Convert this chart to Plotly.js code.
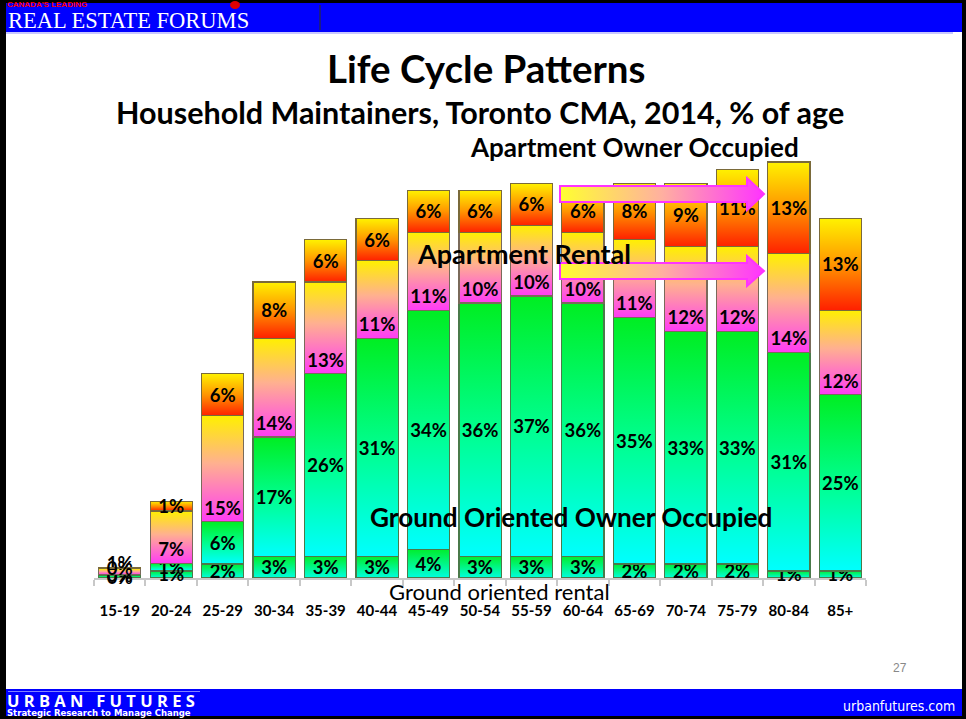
<!DOCTYPE html>
<html>
<head>
<meta charset="utf-8">
<script src="https://cdn.plot.ly/plotly-3.0.1.min.js"></script>
<style>
  html, body { margin: 0; padding: 0; background: #ffffff; }
  #chart { width: 966px; height: 719px; }
</style>
</head>
<body>
<div id="chart"></div>
<script>
// ---------------- data ----------------
const categories = ['15-19','20-24','25-29','30-34','35-39','40-44','45-49','50-54','55-59','60-64','65-69','70-74','75-79','80-84','85+'];
const groundRental = [0.3, 1.0, 2, 3, 3, 3, 4, 3, 3, 3, 2, 2, 2, 1, 1];
const groundOwner  = [0.2, 1.1, 6, 17, 26, 31, 34, 36, 37, 36, 35, 33, 33, 31, 25];
const aptRental    = [0.8, 7.4, 15, 14, 13, 11, 11, 10, 10, 10, 11, 12, 12, 14, 12];
const aptOwner     = [0.2, 1.4, 6, 8, 6, 6, 6, 6, 6, 6, 8, 9, 11, 13, 13];

const seriesNames = ['Ground oriented rental','Ground Oriented Owner Occupied','Apartment Rental','Apartment Owner Occupied'];

// ---------------- layout helpers (page pixels -> paper) ----------------
const W = 966, H = 719;
const M = {l: 94, r: 100, t: 155, b: 141};
const PW = W - M.l - M.r, PH = H - M.t - M.b;
const fx = px => (px - M.l) / PW;
const fy = py => (H - M.b - py) / PH;

const FONT = 'Lato, "Open Sans", sans-serif';

function barTrace(name, vals, anchor, fill, line) {
  return {
    type: 'bar', name: name, x: categories, y: vals,
    texttemplate: '%{y:.0f}%', textposition: 'inside', insidetextanchor: anchor,
    textangle: 0, constraintext: 'none', cliponaxis: false,
    insidetextfont: {family: FONT, size: 18.5, color: '#000000', weight: 'bold'},
    marker: {color: fill, line: {color: line, width: 1.2}},
    hoverinfo: 'skip'
  };
}

const data = [
  barTrace(seriesNames[0], groundRental, 'middle', '#00f59a', '#4a7a4a'),
  barTrace(seriesNames[1], groundOwner, 'middle', '#00f8a8', '#4a7a4a'),
  barTrace(seriesNames[2], aptRental, 'start', '#ffa0b0', '#7a6a5a'),
  barTrace(seriesNames[3], aptOwner, 'middle', '#ff9000', '#7a6a3a')
];

// ---------------- decorations ----------------
function rect(x0, y0, x1, y1, color, layer) {
  return {type: 'rect', xref: 'paper', yref: 'paper', x0: fx(x0), x1: fx(x1), y0: fy(y1), y1: fy(y0),
          fillcolor: color, line: {width: 0}, layer: layer || 'below'};
}
function arrowPath(xs, xb, xt, yc, bh, hh) {
  const p = [[xs, yc - bh], [xb, yc - bh], [xb, yc - hh], [xt, yc], [xb, yc + hh], [xb, yc + bh], [xs, yc + bh]];
  return 'M' + p.map(q => fx(q[0]).toFixed(5) + ',' + fy(q[1]).toFixed(5)).join(' L') + ' Z';
}

const shapes = [
  rect(0, 0, 966, 719, '#000000'),
  rect(6, 3, 962, 716, '#ffffff'),
  rect(6, 3, 962, 32, '#0000ff'),
  rect(6, 32, 953, 34, '#c8c8ff'),
  rect(319, 5, 321, 30, '#1a1a8a'),
  rect(6, 689, 962, 716, '#0000ff'),
  rect(8, 691, 200, 692, '#8080ff'),
  {type: 'circle', xref: 'paper', yref: 'paper', x0: fx(230), x1: fx(240), y0: fy(9), y1: fy(1), fillcolor: '#e00000', line: {width: 0}, layer: 'below'},
  {type: 'path', xref: 'paper', yref: 'paper', path: arrowPath(560, 747, 764, 194, 8, 16),
   fillcolor: '#ffa0ff', line: {color: '#ff33ff', width: 2}, layer: 'above'},
  {type: 'path', xref: 'paper', yref: 'paper', path: arrowPath(560, 747, 764, 271, 8, 15),
   fillcolor: '#ffa0ff', line: {color: '#ff33ff', width: 2}, layer: 'above'}
];

function ann(text, px, py, size, opts) {
  opts = opts || {};
  return {
    text: text, xref: 'paper', yref: 'paper', x: fx(px), y: fy(py),
    xanchor: opts.xanchor || 'center', yanchor: 'middle', showarrow: false,
    font: {family: opts.family || FONT, size: size, color: opts.color || '#000000', weight: opts.weight || 'bold'}
  };
}

const annotations = [
  ann('Life Cycle Patterns', 486, 68, 38.5),
  ann('Household Maintainers, Toronto CMA, 2014, % of age', 480, 112, 30.5),
  ann('Apartment Owner Occupied', 634, 147, 26),
  ann('Apartment Rental', 524, 253, 27),
  ann('Ground Oriented Owner Occupied', 571, 517, 26.2),
  ann('Ground oriented rental', 499, 591, 22, {weight: 'normal'}),
  ann('27', 900, 668, 12, {weight: 'normal', color: '#888888', family: 'Liberation Sans, sans-serif'}),
  ann('REAL ESTATE FORUMS', 6, 20, 22.5, {xanchor: 'left', color: '#ffffff', weight: 'normal', family: '"Liberation Serif", "DejaVu Serif", serif'}),
  ann("CANADA'S LEADING", 5, 4, 8, {xanchor: 'left', color: '#ff0000', family: 'Liberation Sans, sans-serif'}),
  ann('U\u00A0R\u00A0B\u00A0A\u00A0N\u00A0\u00A0\u00A0F\u00A0U\u00A0T\u00A0U\u00A0R\u00A0E\u00A0S', 5, 701, 16.5, {xanchor: 'left', color: '#ffffff', family: '"Open Sans", sans-serif'}),
  ann('Strategic Research to Manage Change', 5, 713, 8.5, {xanchor: 'left', color: '#ffffff', family: '"DejaVu Sans", sans-serif'}),
  ann('urbanfutures.com', 957, 706, 14, {xanchor: 'right', color: '#ffffff', weight: 'normal', family: '"Liberation Sans Narrow", "DejaVu Sans Condensed", sans-serif'})
];

const layout = {
  width: W, height: H,
  margin: M,
  paper_bgcolor: 'rgba(0,0,0,0)', plot_bgcolor: 'rgba(0,0,0,0)',
  barmode: 'stack', bargap: 0.18,
  showlegend: false,
  uniformtext: {minsize: 18.5, mode: 'show'},
  xaxis: {
    type: 'category', showgrid: false, zeroline: false, layer: 'below traces',
    showline: true, linecolor: '#c8c8c8', linewidth: 2,
    ticks: 'outside', tickson: 'boundaries', ticklen: 6, tickwidth: 2, tickcolor: '#c8c8c8',
    ticklabelstandoff: 18,
    tickfont: {family: FONT, size: 15, color: '#000000', weight: 'bold'}
  },
  yaxis: {visible: false, range: [0, 60], fixedrange: true},
  shapes: shapes,
  annotations: annotations
};

const gd = document.getElementById('chart');
Plotly.newPlot(gd, data, layout, {staticPlot: true, displayModeBar: false}).then(applyGradients);

function applyGradients() {
  const svg = gd.querySelector('svg.main-svg');
  const NS = 'http://www.w3.org/2000/svg';
  let defs = svg.querySelector('defs');
  if (!defs) { defs = document.createElementNS(NS, 'defs'); svg.insertBefore(defs, svg.firstChild); }
  function grad(id, stops, horizontal) {
    const g = document.createElementNS(NS, 'linearGradient');
    g.setAttribute('id', id);
    g.setAttribute('x1', '0'); g.setAttribute('y1', '0');
    g.setAttribute('x2', horizontal ? '1' : '0'); g.setAttribute('y2', horizontal ? '0' : '1');
    stops.forEach(s => {
      const st = document.createElementNS(NS, 'stop');
      st.setAttribute('offset', s[0]); st.setAttribute('stop-color', s[1]);
      g.appendChild(st);
    });
    defs.appendChild(g);
  }
  grad('gGR', [[0, '#00ee30'], [1, '#00ffe0']]);
  grad('gGO', [[0, '#00ee22'], [0.55, '#00ff99'], [1, '#00ffff']]);
  grad('gAR', [[0, '#fff000'], [0.45, '#ffb090'], [1, '#ff3cf5']]);
  grad('gAO', [[0, '#fff200'], [0.5, '#ff9500'], [1, '#ff2000']]);
  grad('gArrow', [[0, '#ffff30'], [0.5, '#ffb0a0'], [1, '#ff33ff']], true);
  const ids = ['gGR', 'gGO', 'gAR', 'gAO'];
  gd.querySelectorAll('.barlayer .trace').forEach((tr, i) => {
    tr.querySelectorAll('.point path').forEach(p => { p.style.fill = 'url(#' + ids[i] + ')'; });
  });
  const above = gd.querySelectorAll('.layer-above .shapelayer path');
  above.forEach(p => { p.style.fill = 'url(#gArrow)'; p.style.fillOpacity = 1; });
}
</script>
</body>
</html>
